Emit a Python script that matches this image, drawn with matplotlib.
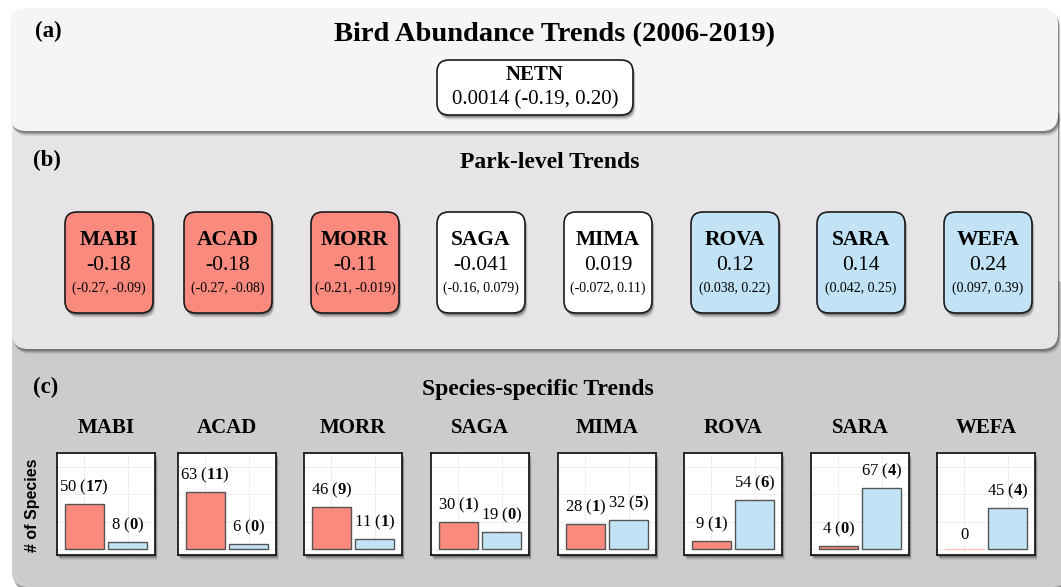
import numpy as np
import matplotlib.pyplot as plt
from matplotlib.patches import FancyBboxPatch

plt.rcParams['font.family'] = ['Liberation Serif', 'DejaVu Serif']
plt.rcParams['mathtext.fontset'] = 'custom'
plt.rcParams['mathtext.rm'] = 'Liberation Serif'
plt.rcParams['mathtext.bf'] = 'Liberation Serif:bold'

# network-wide trend
netn_est = 0.0014
netn_ci = (-0.19, 0.20)

# park-level trends
parks = ['MABI', 'ACAD', 'MORR', 'SAGA', 'MIMA', 'ROVA', 'SARA', 'WEFA']
park_est = [-0.18, -0.18, -0.11, -0.041, 0.019, 0.12, 0.14, 0.24]
park_lo = [-0.27, -0.27, -0.21, -0.16, -0.072, 0.038, 0.042, 0.097]
park_hi = [-0.09, -0.08, -0.019, 0.079, 0.11, 0.22, 0.25, 0.39]

# species-specific counts: negative / positive trends (significant in brackets)
neg_n = [50, 63, 46, 30, 28, 9, 4, 0]
neg_sig = [17, 11, 9, 1, 1, 1, 0, 0]
pos_n = [8, 6, 11, 19, 32, 54, 67, 45]
pos_sig = [0, 0, 1, 0, 5, 6, 4, 4]

RED = '#fa8a7e'
BLUE = '#c1e3f5'

W, H = 1061, 587
fig = plt.figure(figsize=(W / 100, H / 100), dpi=100)
bg = fig.add_axes([0, 0, 1, 1])
bg.set_xlim(0, W)
bg.set_ylim(H, 0)
bg.axis('off')


def rbox(x0, y0, x1, y1, fc, r, ec='none', lw=0, z=1, shadow=True):
    style = f"round,pad=0,rounding_size={r}"
    if shadow:
        for k, a in [(5, 0.08), (4, 0.12), (3, 0.18), (2, 0.25)]:
            bg.add_patch(FancyBboxPatch((x0 + k * 0.5, y0 + k), x1 - x0, y1 - y0,
                                        boxstyle=style, fc='#222222', ec='none',
                                        alpha=a, zorder=z - 0.1))
    bg.add_patch(FancyBboxPatch((x0, y0), x1 - x0, y1 - y0, boxstyle=style,
                                fc=fc, ec=ec, lw=lw, zorder=z))


# the three panels, back to front
rbox(12, 280, 1068, 587, '#cccccc', 16, z=1)
rbox(12, 100, 1058, 349, '#e6e4e6', 16, z=2)
rbox(10, 8, 1058, 131, '#f5f5f5', 16, z=3)

# (a) network
bg.text(35, 31, '(a)', fontsize=16.5, fontweight='bold', va='center', zorder=5)
bg.text(554, 35, 'Bird Abundance Trends (2006-2019)', fontsize=20.5,
        fontweight='bold', ha='center', va='center', zorder=5)
rbox(437, 60, 633, 115, 'white', 12, ec='#1a1a1a', lw=1.2, z=4)
bg.text(535, 75, 'NETN', fontsize=15, fontweight='bold', ha='center', va='center', zorder=5)
bg.text(535, 100, f"{netn_est:.2g} ({netn_ci[0]:.2f}, {netn_ci[1]:.2f})",
        fontsize=15, ha='center', va='center', zorder=5)

# (b) park-level
bg.text(33, 160, '(b)', fontsize=16.5, fontweight='bold', va='center', zorder=5)
bg.text(550, 163, 'Park-level Trends', fontsize=17, fontweight='bold',
        ha='center', va='center', zorder=5)
box_cx = [109, 228, 355, 481, 608, 735, 861, 988]
box_w = 88
for i, p in enumerate(parks):
    if park_hi[i] < 0:
        fc = RED
    elif park_lo[i] > 0:
        fc = BLUE
    else:
        fc = 'white'
    cx = box_cx[i]
    rbox(cx - box_w / 2, 212, cx + box_w / 2, 313, fc, 12, ec='#1a1a1a', lw=1.2, z=4)
    bg.text(cx, 240, p, fontsize=15.5, fontweight='bold', ha='center', va='center', zorder=5)
    bg.text(cx, 265, f"{park_est[i]:.2g}", fontsize=15.5, ha='center', va='center', zorder=5)
    bg.text(cx, 288, f"({park_lo[i]:.2g}, {park_hi[i]:.2g})", fontsize=10,
            ha='center', va='center', zorder=5)

# (c) species-specific
bg.text(33, 387, '(c)', fontsize=16.5, fontweight='bold', va='center', zorder=5)
bg.text(538, 389, 'Species-specific Trends', fontsize=17, fontweight='bold',
        ha='center', va='center', zorder=5)
bg.text(32, 505, '# of Species', fontsize=11.5, fontweight='bold', rotation=90,
        family='Liberation Sans', ha='center', va='center', zorder=5)

ax_left = [57, 178, 304, 431, 558, 684, 811, 937]
ax_w, ax_top, ax_bot = 98, 453, 555
for i, p in enumerate(parks):
    x0 = ax_left[i]
    # drop shadow of the small panel
    for k, a in [(5, 0.08), (4, 0.12), (3, 0.18), (2, 0.25)]:
        bg.add_patch(plt.Rectangle((x0 + k * 0.5, ax_top + k), ax_w, ax_bot - ax_top,
                                   fc='#222222', ec='none', alpha=a, zorder=4))
    bg.text(x0 + ax_w / 2, 428, p, fontsize=15, fontweight='bold',
            ha='center', va='center', zorder=5)

    ax = fig.add_axes([x0 / W, 1 - ax_bot / H, ax_w / W, (ax_bot - ax_top) / H])
    vals = [neg_n[i], pos_n[i]]
    sigs = [neg_sig[i], pos_sig[i]]
    cols = [RED, BLUE]
    for j in range(2):
        ec = '#555555' if vals[j] > 0 else '#fbc3bd'
        ax.bar(j, vals[j], width=0.9, color=cols[j], edgecolor=ec, linewidth=1, zorder=2)
        if vals[j] > 0:
            lab = f"{vals[j]} ($\\mathbf{{{sigs[j]}}}$)"
        else:
            lab = f"{vals[j]}"
        ax.annotate(lab, (j, vals[j]), xytext=(0, 5), textcoords='offset points',
                    ha='center', va='bottom', fontsize=12, zorder=3)
    ax.set_xlim(-0.63, 1.63)
    ax.set_ylim(-6, 105)
    ax.set_xticks([0, 1])
    ax.set_yticks([0, 30, 60, 90])
    ax.tick_params(length=0, labelbottom=False, labelleft=False)
    ax.grid(color='#ebebeb', linewidth=0.6)
    ax.set_axisbelow(True)
    for s in ax.spines.values():
        s.set_linewidth(1.3)
        s.set_color('#1a1a1a')

fig.savefig('out.png', dpi=100)
